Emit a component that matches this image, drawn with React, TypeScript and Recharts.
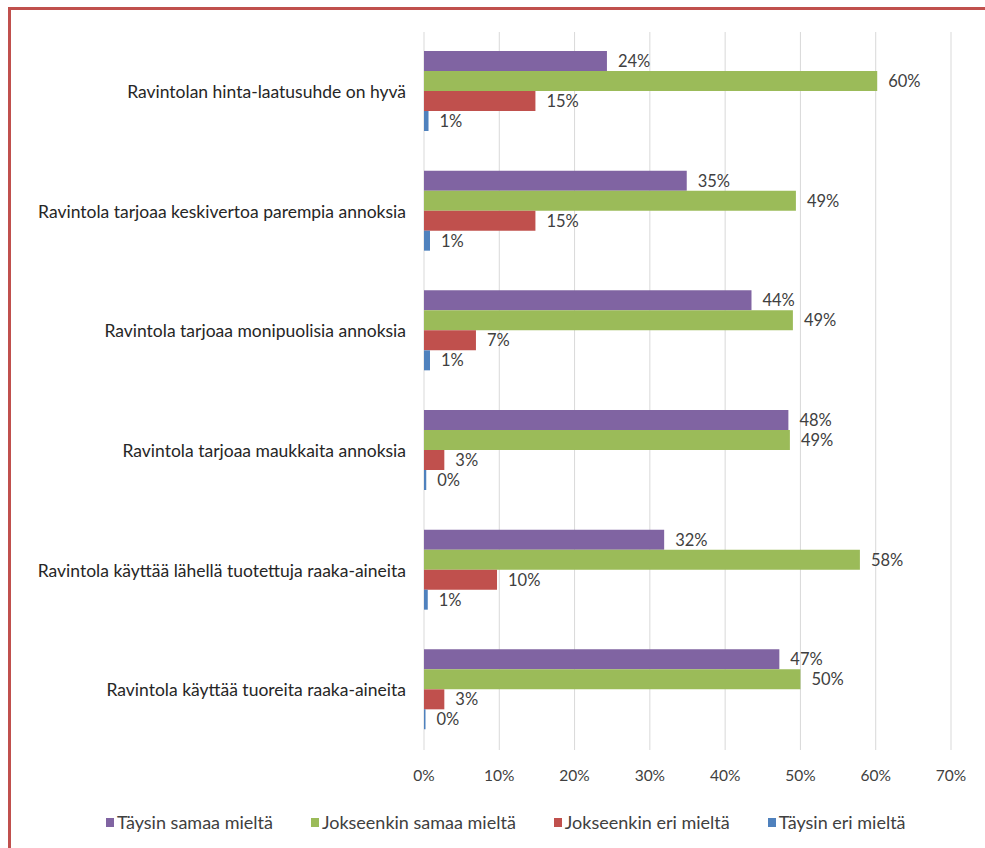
import { BarChart, Bar, XAxis, YAxis, CartesianGrid, Legend, LabelList } from 'recharts';

// survey statements, top to bottom
const statements = [
  'Ravintolan hinta-laatusuhde on hyvä',
  'Ravintola tarjoaa keskivertoa parempia annoksia',
  'Ravintola tarjoaa monipuolisia annoksia',
  'Ravintola tarjoaa maukkaita annoksia',
  'Ravintola käyttää lähellä tuotettuja raaka-aineita',
  'Ravintola käyttää tuoreita raaka-aineita',
];

// share of answers (%)
const taysinSamaa = [24.3, 34.9, 43.5, 48.4, 31.9, 47.2];
const jokseenkinSamaa = [60.2, 49.4, 49.0, 48.6, 57.9, 50.0];
const jokseenkinEri = [14.8, 14.8, 6.9, 2.7, 9.7, 2.7];
const taysinEri = [0.6, 0.8, 0.8, 0.3, 0.5, 0.2];

const xTicks = [0, 10, 20, 30, 40, 50, 60, 70];

const series = [
  { key: 'taysinSamaa', name: 'Täysin samaa mieltä', color: '#8064a2' },
  { key: 'jokseenkinSamaa', name: 'Jokseenkin samaa mieltä', color: '#9bbb59' },
  { key: 'jokseenkinEri', name: 'Jokseenkin eri mieltä', color: '#c0504d' },
  { key: 'taysinEri', name: 'Täysin eri mieltä', color: '#4f81bd' },
];

const data = statements.map((s, i) => ({
  statement: s,
  taysinSamaa: taysinSamaa[i],
  jokseenkinSamaa: jokseenkinSamaa[i],
  jokseenkinEri: jokseenkinEri[i],
  taysinEri: taysinEri[i],
}));

const FONT = 'Lato, "Open Sans", sans-serif';
const TEXT = '#404040';

function LegendRow() {
  return (
    <div style={{ display: 'flex', fontFamily: FONT, fontSize: 18, color: TEXT, height: 22, alignItems: 'center' }}>
      {series.map((s) => (
        <div key={s.key} style={{ display: 'flex', alignItems: 'center', marginRight: 38 }}>
          <span style={{ width: 8, height: 9, background: s.color, marginRight: 3, display: 'inline-block' }} />
          <span>{s.name}</span>
        </div>
      ))}
    </div>
  );
}

export default function App() {
  return (
    <div style={{ position: 'absolute', left: 0, top: 0, width: 985, height: 848, overflow: 'hidden', background: '#fff' }}>
      <div
        style={{
          position: 'absolute',
          left: 8,
          top: 7,
          width: 1100,
          height: 1000,
          border: '3px solid #c0504d',
          pointerEvents: 'none',
        }}
      />
      <BarChart
        width={985}
        height={848}
        data={data}
        layout="vertical"
        margin={{ top: 32, right: 34, left: 0, bottom: 36 }}
        barCategoryGap={19}
        barGap={0}
      >
        <CartesianGrid horizontal={false} stroke="#d9d9d9" />
        <XAxis
          type="number"
          domain={[0, 70]}
          ticks={xTicks}
          tickFormatter={(v) => `${v}%`}
          axisLine={false}
          tickLine={false}
          tickSize={0}
          tickMargin={20}
          height={40}
          tick={{ fill: TEXT, fontSize: 15.5, fontFamily: FONT }}
        />
        <YAxis
          type="category"
          dataKey="statement"
          width={424}
          axisLine={false}
          tickLine={false}
          tickSize={0}
          tickMargin={18}
          tick={{ fill: '#262626', fontSize: 17.5, fontFamily: FONT }}
        />
        <Legend
          verticalAlign="bottom"
          content={() => <LegendRow />}
          wrapperStyle={{ left: 106, bottom: 15, width: 'auto' }}
        />
        {series.map((s) => (
          <Bar key={s.key} dataKey={s.key} name={s.name} fill={s.color} isAnimationActive={false}>
            <LabelList
              dataKey={s.key}
              position="right"
              offset={11}
              formatter={(v: any) => `${Math.round(Number(v))}%`}
              style={{ fill: TEXT, fontSize: 16.5, fontFamily: FONT }}
            />
          </Bar>
        ))}
      </BarChart>
    </div>
  );
}
